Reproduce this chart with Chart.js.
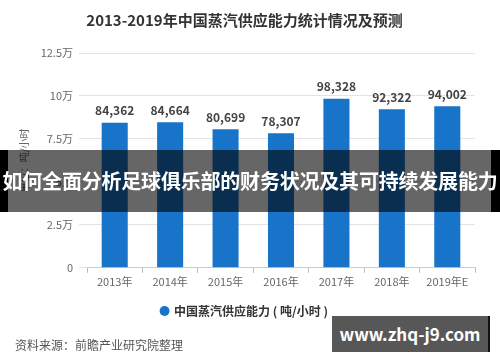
<!DOCTYPE html>
<html>
<head>
<meta charset="utf-8">
<script src="https://cdn.jsdelivr.net/npm/chart.js@4"></script>
<style>
  html, body { margin: 0; padding: 0; background: #fff; }
  .wrap { position: relative; width: 500px; height: 362px; overflow: hidden; font-family: "Noto Sans CJK SC", "Noto Sans", sans-serif; }
  .strip { position: absolute; top: 150px; height: 62px; background: #000; }
  .strip.l { left: 0; width: 8px; }
  .strip.r { left: 491px; width: 9px; }
  .shade { position: absolute; left: 8px; width: 483px; top: 150px; height: 62px; background: rgba(0,0,0,0.6); }
  .banner-text { position: absolute; left: 0; top: 150px; width: 500px; height: 62px; line-height: 62px; text-align: center; color: #fff; font-size: 20px; font-weight: bold; white-space: nowrap; letter-spacing: -0.2px; }
  .source { position: absolute; left: 15px; top: 336px; font-size: 12px; color: #555; }
  .mark { position: absolute; left: 332px; top: 316px; width: 158px; height: 36px; background: #575757; color: #fff; font-size: 17px; font-weight: bold; line-height: 36px; text-align: center; border-right: 2px solid #111; box-sizing: border-box; }
</style>
</head>
<body>
<div class="wrap">
  <canvas id="c" width="500" height="362"></canvas>
  <div class="strip l"></div>
  <div class="strip r"></div>
  <div class="shade"></div>
  <div class="banner-text">如何全面分析足球俱乐部的财务状况及其可持续发展能力</div>
  <div class="source">资料来源：前瞻产业研究院整理</div>
  <div class="mark">www.zhq-j9.com</div>
</div>
<script>
// data
const years = ['2013年', '2014年', '2015年', '2016年', '2017年', '2018年', '2019年E'];
const capacity = [84362, 84664, 80699, 78307, 98328, 92322, 94002];
const yTicks = [0, 25000, 50000, 75000, 100000, 125000];
const yTickText = ['0', '2.5万', '5万', '7.5万', '10万', '12.5万'];

const FONT = '"Noto Sans CJK SC", "Noto Sans", sans-serif';
const BLUE = '#1874c8';

// value labels on top of the bars
const barValues = {
  id: 'barValues',
  afterDatasetsDraw(chart) {
    const ctx = chart.ctx;
    const meta = chart.getDatasetMeta(0);
    ctx.save();
    ctx.font = 'bold 12px ' + FONT;
    ctx.fillStyle = '#444';
    ctx.textAlign = 'center';
    ctx.textBaseline = 'bottom';
    meta.data.forEach((bar, i) => {
      ctx.fillText(capacity[i].toLocaleString('en-US'), bar.x, bar.y - 6);
    });
    ctx.restore();
  }
};

new Chart(document.getElementById('c'), {
  type: 'bar',
  data: {
    labels: years,
    datasets: [{
      label: '中国蒸汽供应能力 ( 吨/小时 )',
      data: capacity,
      backgroundColor: BLUE,
      borderWidth: 0,
      barPercentage: 0.47,
      categoryPercentage: 1
    }]
  },
  options: {
    responsive: false,
    animation: false,
    layout: { padding: { left: 14, right: 25, top: 0, bottom: 35 } },
    plugins: {
      title: {
        display: true,
        text: '2013-2019年中国蒸汽供应能力统计情况及预测',
        color: '#333',
        font: { family: FONT, size: 15, weight: 'bold' },
        padding: { top: 11, bottom: 24 }
      },
      legend: {
        position: 'bottom',
        labels: {
          usePointStyle: true,
          pointStyle: 'circle',
          boxWidth: 7,
          boxHeight: 7,
          color: '#333',
          font: { family: FONT, size: 12, weight: 'bold' },
          padding: 10
        }
      },
      tooltip: { enabled: false }
    },
    scales: {
      x: {
        afterFit(scale) { scale.height += 5; },
        grid: { drawOnChartArea: false, drawTicks: true, tickLength: 5, color: '#bbb' },
        border: { color: '#ccc' },
        ticks: { color: '#666', font: { family: FONT, size: 11 }, padding: 2 }
      },
      y: {
        min: 0,
        max: 125000,
        afterBuildTicks(scale) { scale.ticks = yTicks.map(v => ({ value: v })); },
        afterFit(scale) { scale.width = 73; },
        grid: { color: '#e3e3e3', drawTicks: true, tickLength: 8 },
        border: { display: false },
        ticks: {
          color: '#666',
          font: { family: FONT, size: 11 },
          padding: 6,
          callback: (v) => yTickText[yTicks.indexOf(v)]
        },
        title: {
          display: true,
          text: '单位：吨/小时',
          color: '#666',
          font: { family: FONT, size: 10 },
          padding: { top: 4, bottom: 0 }
        }
      }
    }
  },
  plugins: [barValues]
});
</script>
</body>
</html>
